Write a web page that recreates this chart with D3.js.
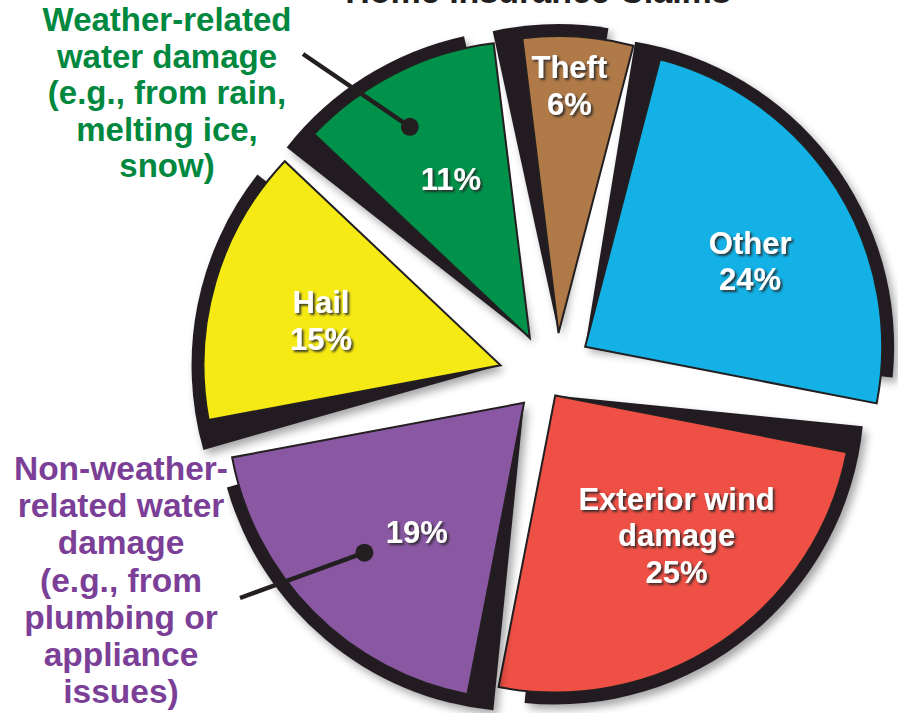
<!DOCTYPE html>
<html>
<head>
<meta charset="utf-8">
<script src="https://cdn.jsdelivr.net/npm/d3@7"></script>
<style>
  html, body { margin: 0; padding: 0; background: #ffffff; }
  svg { display: block; }
  text { font-family: "Liberation Sans", Arial, sans-serif; font-weight: 700; }
</style>
</head>
<body>
<svg id="chart" width="898" height="713"></svg>
<script>
// ---------------- data ----------------
const title = "Home Insurance Claims";
const categories = ["Theft", "Other", "Exterior wind damage", "Non-weather-related water damage", "Hail", "Weather-related water damage"];
const values = [6, 24, 25, 19, 15, 11];
const innerNames = [["Theft"], ["Other"], ["Exterior wind", "damage"], [], ["Hail"], []];
const greenCallout = ["Weather-related", "water damage", "(e.g., from rain,", "melting ice,", "snow)"];
const purpleCallout = ["Non-weather-", "related water", "damage", "(e.g., from", "plumbing or", "appliance", "issues)"];

// ---------------- style / layout ----------------
const colors = ["#b07a48", "#13b1e6", "#ef5045", "#8a57a3", "#f5ea14", "#00924a"];
const explodeNudge = [[10, 0], [7, -4], [-12, -7], [5, 5], [-9, 5], [1, 1]];
const labelRadius = [248, 186, 185, 168, 185, 178];
const labelTurn = [-1.3, 4.7, -7, -5.5, -2.4, 0.5];
const W = 898, H = 713;
const cx = 546, cy = 371, R = 297, explode = 38;
const startDeg = -7;
const shadowRot = 5.3 * Math.PI / 180, shadowExtra = 12;
const ink = "#231f20";
const rad = Math.PI / 180;

const svg = d3.select("#chart");
const defs = svg.append("defs");
const f1 = defs.append("filter").attr("id", "soft").attr("x", "-20%").attr("y", "-20%").attr("width", "140%").attr("height", "140%");
f1.append("feDropShadow").attr("dx", 4).attr("dy", 5).attr("stdDeviation", 4)
  .attr("flood-color", "#000").attr("flood-opacity", 0.35);
const f2 = defs.append("filter").attr("id", "txt").attr("x", "-20%").attr("y", "-30%").attr("width", "140%").attr("height", "160%");
f2.append("feDropShadow").attr("dx", 2).attr("dy", 2).attr("stdDeviation", 1.2)
  .attr("flood-color", "#2a2a2a").attr("flood-opacity", 0.9);

// title (partly above the frame as in the reference)
svg.append("text").attr("x", 538).attr("y", 3).attr("text-anchor", "middle")
  .attr("font-size", 34).attr("fill", ink).text(title);

const start = startDeg * rad;
const pie = d3.pie().sort(null).value(d => d).startAngle(start).endAngle(start + 2 * Math.PI);
const arcs = pie(values);

const arc = d3.arc().innerRadius(0).outerRadius(R);
const shadowArc = d3.arc().innerRadius(0).outerRadius(R + shadowExtra);

function tip(d) {
  const m = (d.startAngle + d.endAngle) / 2;
  const n = explodeNudge[d.index];
  return [cx + explode * Math.sin(m) + n[0], cy - explode * Math.cos(m) + n[1]];
}
function polar(d, r, turnDeg) {
  const t = tip(d);
  const m = (d.startAngle + d.endAngle) / 2 + turnDeg * rad;
  return [t[0] + r * Math.sin(m), t[1] - r * Math.cos(m)];
}

const g = svg.append("g");
const slices = g.selectAll("g.slice").data(arcs).join("g").attr("class", "slice")
  .attr("transform", d => { const t = tip(d); return `translate(${t[0]},${t[1]})`; });

slices.append("path")
  .attr("d", d => shadowArc({ startAngle: d.startAngle - shadowRot, endAngle: d.endAngle - shadowRot }))
  .attr("fill", ink).attr("filter", "url(#soft)");

slices.append("path")
  .attr("d", d => arc(d))
  .attr("fill", (d, i) => colors[i])
  .attr("stroke", ink).attr("stroke-width", 2).attr("stroke-linejoin", "miter");

// leader lines for the outside call-outs
const callouts = [
  { idx: 5, from: [303, 54], r: 243, turn: -2.8 },
  { idx: 3, from: [240, 598], r: 219, turn: 1.6 }
];
callouts.forEach(c => {
  const p = polar(arcs[c.idx], c.r, c.turn);
  svg.append("line").attr("x1", c.from[0]).attr("y1", c.from[1]).attr("x2", p[0]).attr("y2", p[1])
    .attr("stroke", ink).attr("stroke-width", 4.5);
  svg.append("circle").attr("cx", p[0]).attr("cy", p[1]).attr("r", 9).attr("fill", ink);
});

// inner labels
arcs.forEach((d, i) => {
  const p = polar(d, labelRadius[i], labelTurn[i]);
  const lines = innerNames[i].concat([values[i] + "%"]);
  const n = lines.length;
  const txt = svg.append("text").attr("text-anchor", "middle").attr("font-size", 31)
    .attr("fill", "#ffffff").attr("filter", "url(#txt)");
  lines.forEach((s, k) => {
    txt.append("tspan").attr("x", p[0]).attr("y", p[1] + (k - (n - 1) / 2) * 36.5 + 11).text(s);
  });
});

// outside call-out text
function block(lines, x, y0, size, step, color) {
  const t = svg.append("text").attr("text-anchor", "middle").attr("font-size", size).attr("fill", color);
  lines.forEach((s, k) => t.append("tspan").attr("x", x).attr("y", y0 + k * step).text(s));
}
block(greenCallout, 167, 31, 33, 36.6, "#00883f");
block(purpleCallout, 121, 480, 33.5, 37.2, "#7b3f98");
</script>
</body>
</html>
